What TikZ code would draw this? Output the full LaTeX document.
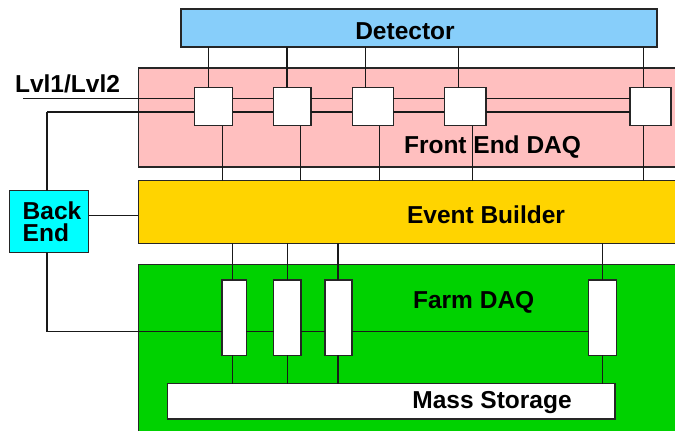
\documentclass[tikz,border=0pt]{standalone}
\usepackage{fontspec}
\setmainfont{Liberation Sans}
\definecolor{detblue}{RGB}{135,206,250}
\definecolor{fepink}{RGB}{255,191,191}
\definecolor{ebgold}{RGB}{255,212,0}
\definecolor{farmgreen}{RGB}{0,210,0}
\definecolor{becyan}{RGB}{0,255,255}
\begin{document}
\begin{tikzpicture}[x=1pt,y=-1pt,
  blk/.style={draw=black!85, line width=1.1pt, inner sep=0pt, outer sep=0pt, anchor=north west},
  wire/.style={draw=black!90, line width=1.1pt},
  lbl/.style={font=\bfseries\fontsize{24.5}{22}\selectfont, inner sep=0pt, anchor=base}]
\clip (0,0) rectangle (675,431);
\fill[white] (0,0) rectangle (675,431);

% large panels
\node[blk, fill=detblue, minimum width=476pt, minimum height=38pt] (det) at (181,9) {};
\node[blk, fill=fepink, minimum width=600pt, minimum height=99pt] (fe) at (138.3,68) {};
\node[blk, fill=ebgold, minimum width=600pt, minimum height=62.6pt] (eb) at (138.3,180.7) {};
\node[blk, fill=farmgreen, minimum width=600pt, minimum height=200pt] (farm) at (138.3,264.5) {};
\node[blk, fill=becyan, minimum width=79.4pt, minimum height=61.6pt] (be) at (9.3,190.7) {};

% front end modules
\node[blk, fill=white, minimum width=38.4pt, minimum height=38pt] (fe1) at (194.3,87.7) {};
\node[blk, fill=white, minimum width=37.7pt, minimum height=38pt] (fe2) at (273.3,87.7) {};
\node[blk, fill=white, minimum width=41pt, minimum height=38pt] (fe3) at (352.3,87.7) {};
\node[blk, fill=white, minimum width=41.7pt, minimum height=38pt] (fe4) at (444.3,87.7) {};
\node[blk, fill=white, minimum width=41pt, minimum height=38pt] (fe5) at (630,87.7) {};

% farm nodes and storage
\node[blk, fill=white, minimum width=24.3pt, minimum height=75.3pt] (fa1) at (222,280) {};
\node[blk, fill=white, minimum width=27.3pt, minimum height=75.3pt] (fa2) at (273.7,280) {};
\node[blk, fill=white, minimum width=27pt, minimum height=75.3pt] (fa3) at (325,280) {};
\node[blk, fill=white, minimum width=27.6pt, minimum height=75.3pt] (fa4) at (588.7,280) {};
\node[blk, fill=white, minimum width=447.7pt, minimum height=35.3pt] (ms) at (167.3,383.7) {};

% trigger and control buses
\coordinate (busA) at (23,98.5);
\coordinate (busB) at (47,112);
\coordinate (tap) at (47,331.3);
\draw[wire] (busA) -- (busA -| fe1.west);
\draw[wire] (busB) -- (busB -| fe1.west);
\foreach \a/\b in {fe1/fe2,fe2/fe3,fe3/fe4,fe4/fe5}{
  \draw[wire] (busA -| \a.east) -- (busA -| \b.west);
  \draw[wire] (busB -| \a.east) -- (busB -| \b.west);
}
\draw[wire] (busB) -- (be.north -| busB);
\draw[wire] (be.south -| tap) -- (tap) -- (tap -| fa1.west);
\foreach \a/\b in {fa1/fa2,fa2/fa3,fa3/fa4}{
  \draw[wire] (tap -| \a.east) -- (tap -| \b.west);
}
\draw[wire] (be.east |- 0,215.7) -- (eb.west |- 0,215.7);

% detector to front end, front end to event builder
\foreach \n/\x in {fe1/208.3,fe2/287,fe3/365.7,fe4/458.7,fe5/643.7}{
  \draw[wire] (det.south -| \x,0) -- (\n.north -| \x,0);
}
\foreach \n/\x in {fe1/222.3,fe2/300.7,fe3/379.3,fe4/472.3,fe5/643.7}{
  \draw[wire] (\n.south -| \x,0) -- (eb.north -| \x,0);
}
% event builder to farm, farm to storage
\foreach \n/\x in {fa1/232.7,fa2/287.3,fa3/338,fa4/602.7}{
  \draw[wire] (eb.south -| \x,0) -- (\n.north -| \x,0);
  \draw[wire] (\n.south -| \x,0) -- (ms.north -| \x,0);
}

% labels
\node[lbl] (tdet) at (405,39.3) {Detector};
\node[lbl] (tfe) at (492.5,153) {Front End DAQ};
\node[lbl] (teb) at (486,223.3) {Event Builder};
\node[lbl] (tfarm) at (473.7,308) {Farm DAQ};
\node[lbl] (tms) at (492,408.5) {Mass Storage};
\node[lbl] (tlvl) at (67.5,92) {Lvl1/Lvl2};
\node[font=\bfseries\fontsize{24.5}{22}\selectfont, inner sep=0pt, align=left, anchor=base west] (tbe) at (22.5,241.7) {Back\\End};
\end{tikzpicture}
\end{document}
